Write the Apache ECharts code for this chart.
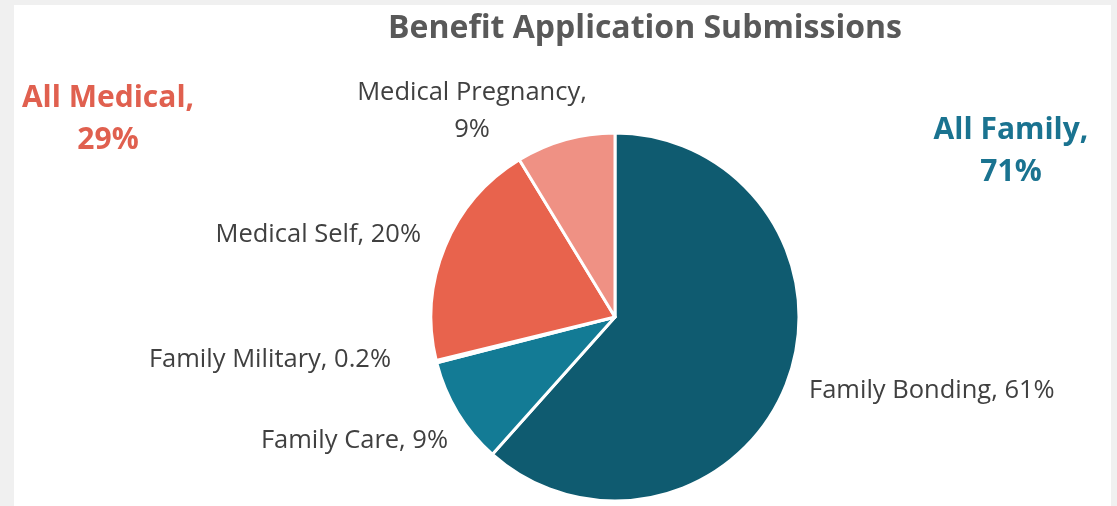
<!DOCTYPE html>
<html>
<head>
<meta charset="utf-8">
<script src="https://cdn.jsdelivr.net/npm/echarts@6/dist/echarts.min.js"></script>
<style>
html,body{margin:0;padding:0;background:#f0f0f0;}
#chart{width:1117px;height:506px;}
</style>
</head>
<body>
<div id="chart"></div>
<script>
const categories = ['Family Bonding', 'Family Care', 'Family Military', 'Medical Self', 'Medical Pregnancy'];
const values = [61.6, 9.4, 0.2, 20.1, 8.7];
const shownPct = ['61%', '9%', '0.2%', '20%', '9%'];
const colors = ['#0f5b70', '#137b95', '#137b95', '#e8634d', '#ef9184'];
const groupNames = ['All Medical,', 'All Family,'];
const groupPct = ['29%', '71%'];

const labelPos = [
  {x: 809, y: 391, align: 'left'},
  {x: 448, y: 441, align: 'right'},
  {x: 391, y: 360, align: 'right'},
  {x: 421, y: 235, align: 'right'},
  {x: 472, y: 111, align: 'center'}
];

const chart = echarts.init(document.getElementById('chart'));
const font = '"Open Sans", "Noto Sans", sans-serif';
chart.setOption({
  backgroundColor: '#f0f0f0',
  animation: false,
  title: {
    text: 'Benefit Application Submissions',
    left: 640, top: 8, textAlign: 'center',
    textStyle: {fontFamily: font, fontSize: 32, fontWeight: 'bold', color: '#595959'}
  },
  graphic: [
    {type: 'rect', z: -10, shape: {x: 14, y: 5, width: 1097, height: 501}, style: {fill: '#ffffff'}},
    {type: 'text', x: 108, y: 119, style: {text: groupNames[0] + '\n' + groupPct[0], fontFamily: font, fontSize: 30, fontWeight: 'bold', fill: '#e0604f', align: 'center', verticalAlign: 'middle', lineHeight: 42}},
    {type: 'text', x: 1011, y: 151, style: {text: groupNames[1] + '\n' + groupPct[1], fontFamily: font, fontSize: 30, fontWeight: 'bold', fill: '#1a7390', align: 'center', verticalAlign: 'middle', lineHeight: 42}}
  ],
  series: [{
    type: 'pie',
    center: [615, 317],
    radius: 184,
    startAngle: 90,
    clockwise: true,
    avoidLabelOverlap: false,
    itemStyle: {borderColor: '#ffffff', borderWidth: 3},
    label: {
      show: true,
      fontFamily: font, fontSize: 25.5, color: '#404040', lineHeight: 37,
      formatter: p => p.dataIndex === 4 ? p.name + ',\n' + shownPct[p.dataIndex] : p.name + ', ' + shownPct[p.dataIndex]
    },
    labelLine: {show: false},
    labelLayout: p => ({x: labelPos[p.dataIndex].x, y: labelPos[p.dataIndex].y, align: labelPos[p.dataIndex].align, verticalAlign: 'middle'}),
    data: categories.map((c, i) => ({name: c, value: values[i], itemStyle: {color: colors[i]}}))
  }]
});
</script>
</body>
</html>
